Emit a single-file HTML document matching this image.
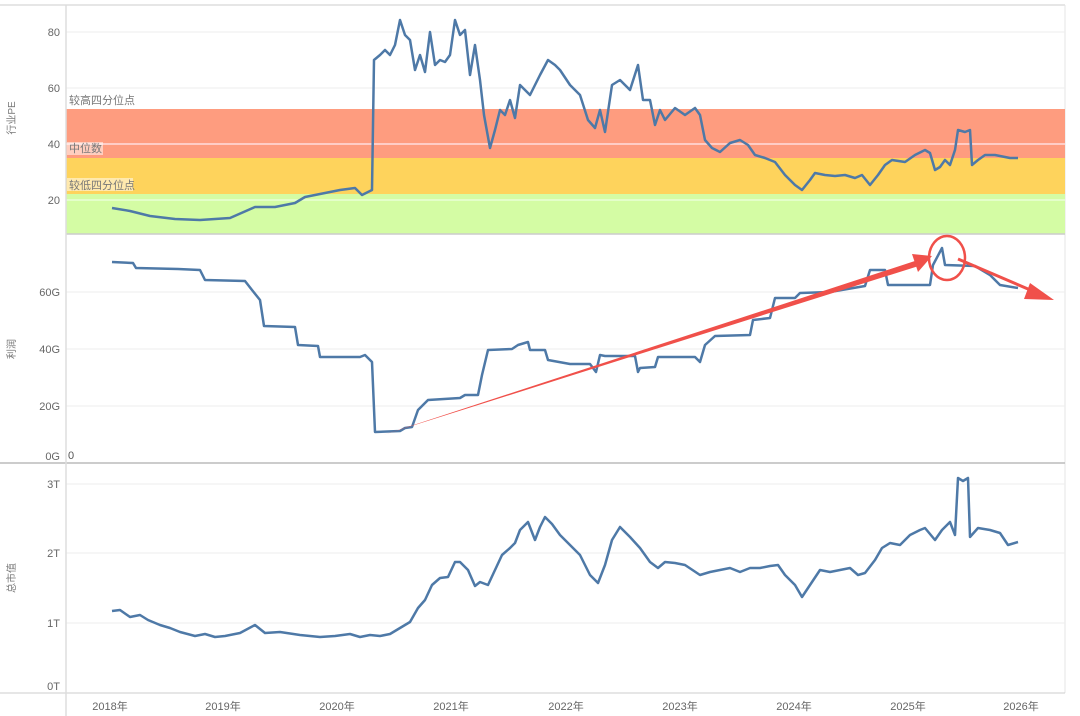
<!DOCTYPE html>
<html><head><meta charset="utf-8"><style>
html,body{margin:0;padding:0;background:#fff;}
svg{display:block;font-family:"Liberation Sans","Noto Sans CJK SC",sans-serif;}
</style></head><body>
<svg width="1080" height="716" viewBox="0 0 1080 716">
<rect x="0" y="0" width="1080" height="716" fill="#fff"/>
<!-- frames -->
<line x1="0" y1="5" x2="1065" y2="5" stroke="#ddd" stroke-width="1.5"/>
<line x1="1065" y1="5" x2="1065" y2="693" stroke="#e4e4e4"/>
<!-- panel 1 bands -->
<rect x="66" y="109" width="999" height="49" fill="#fe9c7f"/>
<rect x="66" y="158" width="999" height="36" fill="#fed35c"/>
<rect x="66" y="194" width="999" height="40" fill="#d4fca4"/>
<g stroke="#eee" stroke-width="1">
<line x1="66" y1="32" x2="1065" y2="32"/><line x1="66" y1="88" x2="1065" y2="88"/>
<line x1="66" y1="292" x2="1065" y2="292"/><line x1="66" y1="349" x2="1065" y2="349"/><line x1="66" y1="406" x2="1065" y2="406"/>
<line x1="66" y1="484" x2="1065" y2="484"/><line x1="66" y1="553" x2="1065" y2="553"/><line x1="66" y1="623" x2="1065" y2="623"/>
</g>
<line x1="66" y1="144" x2="1065" y2="144" stroke="#fdd" stroke-width="1.5"/>
<line x1="66" y1="200" x2="1065" y2="200" stroke="#f4fff0" stroke-width="1"/>
<rect x="67" y="94" width="66" height="13" fill="#fff" opacity="0.6"/>
<rect x="67" y="142" width="36" height="13" fill="#fff" opacity="0.5"/>
<rect x="67" y="178" width="66" height="13" fill="#fff" opacity="0.5"/>
<g font-size="11" fill="#777">
<text x="69" y="104">较高四分位点</text>
<text x="69" y="152">中位数</text>
<text x="69" y="189">较低四分位点</text>
</g>
<line x1="66" y1="234" x2="1065" y2="234" stroke="#ccc" stroke-width="1.5"/>
<line x1="0" y1="463" x2="1065" y2="463" stroke="#bbb" stroke-width="1.5"/>
<line x1="0" y1="693" x2="1065" y2="693" stroke="#ccc" stroke-width="1"/>
<line x1="66" y1="5" x2="66" y2="716" stroke="#ddd" stroke-width="1.5"/>
<!-- tick labels -->
<g font-size="11" fill="#666" text-anchor="end">
<text x="60" y="36">80</text><text x="60" y="92">60</text><text x="60" y="148">40</text><text x="60" y="204">20</text>
<text x="60" y="296">60G</text><text x="60" y="353">40G</text><text x="60" y="410">20G</text><text x="60" y="460">0G</text>
<text x="60" y="488">3T</text><text x="60" y="557">2T</text><text x="60" y="627">1T</text><text x="60" y="690">0T</text>
</g>
<text x="68" y="459" font-size="11" fill="#555">0</text>
<g font-size="11" fill="#666" text-anchor="middle">
<text x="110" y="710">2018年</text><text x="223" y="710">2019年</text><text x="337" y="710">2020年</text><text x="451" y="710">2021年</text><text x="566" y="710">2022年</text><text x="680" y="710">2023年</text><text x="794" y="710">2024年</text><text x="908" y="710">2025年</text><text x="1021" y="710">2026年</text>
</g>
<g font-size="10" fill="#777" text-anchor="middle">
<text transform="translate(15,118) rotate(-90)">行业PE</text>
<text transform="translate(15,349) rotate(-90)">利润</text>
<text transform="translate(15,578) rotate(-90)">总市值</text>
</g>
<g fill="none" stroke="#4e79a7" stroke-width="2.5" stroke-linejoin="round">
<polyline points="112,208 130,211 150,216 175,219 200,220 230,218 255,207 275,207 295,203 305,197 320,194 340,190 355,188 362,195 372,190 374,60 380,55 385,50 390,55 395,45 400,20 405,35 410,40 415,70 420,55 425,72 430,32 435,65 440,60 445,62 450,55 455,20 460,35 465,30 470,75 475,45 480,80 484,115 490,148 495,130 500,110 505,115 510,100 515,118 520,85 530,95 540,75 548,60 555,65 560,70 570,85 580,95 588,120 595,128 600,110 605,132 612,85 620,80 630,90 638,65 643,100 650,100 655,125 660,110 665,120 675,108 685,115 695,108 700,115 705,140 712,148 720,152 730,143 740,140 748,145 755,155 765,158 775,162 785,175 795,185 802,190 810,180 815,173 825,175 835,176 845,175 855,178 862,175 870,185 878,175 885,165 892,160 905,162 915,155 925,150 930,153 935,170 940,167 945,160 950,165 955,150 958,130 965,132 970,130 972,165 978,160 985,155 995,155 1005,157 1010,158 1018,158"/>
<polyline points="112,262 133,263 136,268 178,269 200,270 205,280 245,281 252,290 260,300 264,326 295,327 298,345 318,346 320,357 360,357 365,355 372,362 375,432 400,431 405,428 412,427 418,410 428,400 460,398 465,395 478,395 482,375 488,350 512,349 518,345 528,342 530,350 545,350 548,360 570,364 590,364 596,372 600,355 605,356 635,356 638,372 640,368 655,367 658,357 695,357 700,362 705,345 715,336 750,335 753,320 770,318 775,298 795,298 800,293 830,292 865,286 870,270 885,270 888,285 930,285 933,265 942,248 945,265 975,266 990,275 1000,285 1018,288"/>
<polyline points="112,611 120,610 130,617 140,615 148,620 160,625 170,628 180,632 195,636 205,634 215,637 225,636 240,633 255,625 265,633 280,632 300,635 320,637 335,636 350,634 360,637 370,635 380,636 390,634 400,628 410,622 418,608 425,600 432,585 440,578 448,577 455,562 460,562 468,570 475,586 480,582 488,585 495,570 502,555 510,548 515,543 520,530 528,522 535,540 540,527 545,517 552,524 560,535 570,545 580,555 590,575 598,583 605,565 612,540 620,527 630,537 640,548 650,562 658,568 665,562 675,563 685,565 700,575 710,572 720,570 730,568 740,572 750,568 760,568 770,566 778,565 785,575 795,585 802,597 810,585 820,570 830,572 840,570 850,568 858,575 865,573 875,560 882,548 890,543 900,545 910,535 920,530 925,528 935,540 942,530 950,522 955,535 958,478 963,481 968,478 970,537 978,528 990,530 1000,533 1008,545 1018,542"/>
</g>
<!-- annotations -->
<polygon points="383,435 924,258 925,264" fill="#f0504a"/>
<polygon points="932,256 912,254 918,272" fill="#f0504a"/>
<line x1="958" y1="259" x2="1035" y2="292" stroke="#f0504a" stroke-width="3"/>
<polygon points="1054,300 1030,283 1024,299" fill="#f0504a"/>
<ellipse cx="947" cy="258" rx="18" ry="22" fill="none" stroke="#f0504a" stroke-width="2.5"/>
</svg>
</body></html>
